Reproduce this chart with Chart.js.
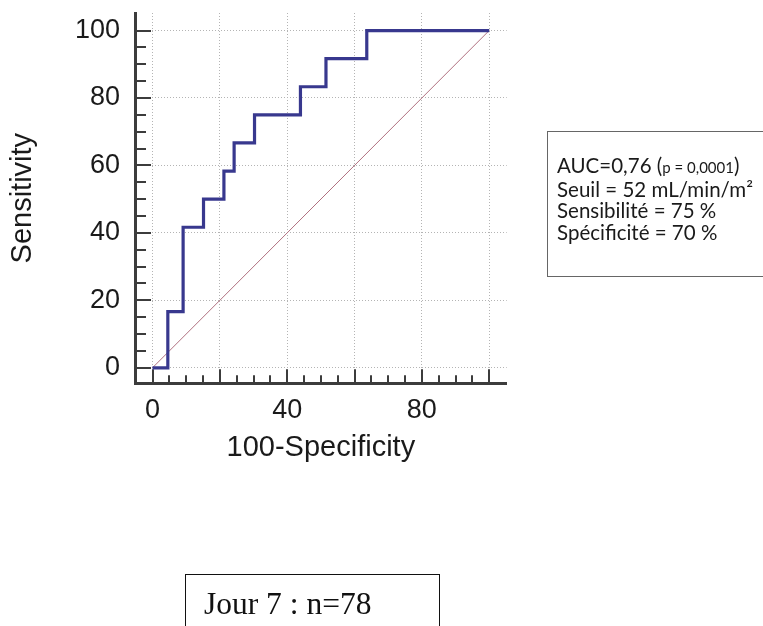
<!DOCTYPE html>
<html>
<head>
<meta charset="utf-8">
<script src="https://cdn.jsdelivr.net/npm/chart.js@4.4.1/dist/chart.umd.min.js"></script>
<style>
  html, body { margin: 0; padding: 0; background: #fff; overflow: hidden; }
  body { width: 763px; height: 626px; position: relative; }
  #wrap { position: absolute; left: 0; top: 0; width: 763px; height: 626px; }
  #note {
    position: absolute; left: 547px; top: 131px; width: 240px; height: 146px;
    border: 1px solid #666; box-sizing: border-box;
    padding: 23px 0 0 9px; font-family: Lato, "Open Sans", sans-serif;
    font-size: 20.5px; line-height: 21.7px; color: #1a1a1a; white-space: nowrap;
  }
  #note .small { font-size: 15px; }
  #day {
    position: absolute; left: 185px; top: 574px; width: 255px; height: 80px;
    border: 1.5px solid #111; box-sizing: border-box;
    padding: 13px 0 0 18px; font-family: "Liberation Serif", "Times New Roman", serif;
    font-size: 31.5px; line-height: 32px; color: #111; white-space: nowrap;
  }
</style>
</head>
<body>
<div id="wrap"><canvas id="rocChart"></canvas></div>
<div id="note">
  <div>AUC=0,76 (<span class="small">p = 0,0001</span>)</div>
  <div>Seuil = 52 mL/min/m²</div>
  <div>Sensibilité = 75 %</div>
  <div>Spécificité = 70 %</div>
</div>
<div id="day">Jour 7 : n=78</div>
<script>
// ROC curve corners (100-Specificity, Sensitivity)
const rocX = [0, 4.55, 4.55, 9.09, 9.09, 15.15, 15.15, 21.21, 21.21, 24.24, 24.24, 30.30, 30.30, 43.94, 43.94, 51.52, 51.52, 63.64, 63.64, 100];
const rocY = [0, 0, 16.67, 16.67, 41.67, 41.67, 50, 50, 58.33, 58.33, 66.67, 66.67, 75, 75, 83.33, 83.33, 91.67, 91.67, 100, 100];
// reference diagonal
const diagX = [0, 100];
const diagY = [0, 100];
// axis ticks
const gridTicks = [0, 20, 40, 60, 80, 100];
const xLabelTicks = [0, 40, 80];
const minorTicks = [0, 5, 10, 15, 20, 25, 30, 35, 40, 45, 50, 55, 60, 65, 70, 75, 80, 85, 90, 95, 100];

const axisColor = '#3c3c3c';

// tick marks pointing inward from the axes
const innerTicks = {
  id: 'innerTicks',
  beforeDatasetsDraw(chart) {
    const {ctx, chartArea, scales: {x, y}} = chart;
    ctx.save();
    ctx.strokeStyle = axisColor;
    ctx.lineWidth = 2;
    minorTicks.forEach(v => {
      const major = v % 20 === 0;
      const py = Math.round(y.getPixelForValue(v));
      ctx.beginPath();
      ctx.moveTo(chartArea.left - 1, py);
      ctx.lineTo(chartArea.left + (major ? 16 : 11), py);
      ctx.stroke();
      const px = Math.round(x.getPixelForValue(v));
      ctx.beginPath();
      ctx.moveTo(px, chartArea.bottom + 1);
      ctx.lineTo(px, chartArea.bottom - (major ? 14 : 8));
      ctx.stroke();
    });
    ctx.restore();
  }
};

// fixed axis sizes, no automatic label padding
function fixSize(prop, size) {
  return scale => {
    scale[prop] = size;
    scale.paddingLeft = scale.paddingRight = scale.paddingTop = scale.paddingBottom = 0;
  };
}

const ctx = document.getElementById('rocChart').getContext('2d');
new Chart(ctx, {
  type: 'scatter',
  data: {
    datasets: [
      {
        data: rocX.map((v, i) => ({x: v, y: rocY[i]})),
        showLine: true,
        borderColor: '#38388e',
        borderWidth: 3.2,
        pointRadius: 0,
        borderJoinStyle: 'miter'
      },
      {
        data: diagX.map((v, i) => ({x: v, y: diagY[i]})),
        showLine: true,
        borderColor: '#b0707f',
        borderWidth: 1,
        pointRadius: 0
      }
    ]
  },
  options: {
    responsive: true,
    maintainAspectRatio: false,
    animation: false,
    events: [],
    layout: {
      autoPadding: false,
      padding: {left: 0, top: 13, right: 256.3, bottom: 156.5}
    },
    plugins: {
      legend: {display: false},
      tooltip: {enabled: false}
    },
    scales: {
      x: {
        type: 'linear',
        min: -5.2,
        max: 105.2,
        afterBuildTicks: axis => { axis.ticks = gridTicks.map(v => ({value: v})); },
        afterFit: fixSize('height', 86.2),
        ticks: {
          autoSkip: false,
          maxRotation: 0,
          padding: 11,
          color: '#1a1a1a',
          font: {family: 'Liberation Sans, Arial, sans-serif', size: 27},
          callback: v => xLabelTicks.includes(v) ? String(v) : ''
        },
        grid: {color: '#b4b4b4', lineWidth: 1, drawTicks: false},
        border: {display: true, color: axisColor, width: 3, dash: [1, 2]},
        title: {
          display: true,
          text: '100-Specificity',
          color: '#1a1a1a',
          font: {family: 'Liberation Sans, Arial, sans-serif', size: 29},
          padding: {top: 4, bottom: 4}
        }
      },
      y: {
        type: 'linear',
        min: -4.6,
        max: 105.2,
        afterBuildTicks: axis => { axis.ticks = gridTicks.map(v => ({value: v})); },
        afterFit: fixSize('width', 135),
        ticks: {
          autoSkip: false,
          padding: 15,
          color: '#1a1a1a',
          font: {family: 'Liberation Sans, Arial, sans-serif', size: 27}
        },
        grid: {color: '#b4b4b4', lineWidth: 1, drawTicks: false},
        border: {display: true, color: axisColor, width: 3, dash: [1, 2]},
        title: {
          display: true,
          text: 'Sensitivity',
          color: '#1a1a1a',
          font: {family: 'Liberation Sans, Arial, sans-serif', size: 29},
          padding: {top: 5.6, bottom: 34.6}
        }
      }
    }
  },
  plugins: [innerTicks]
});
</script>
</body>
</html>
